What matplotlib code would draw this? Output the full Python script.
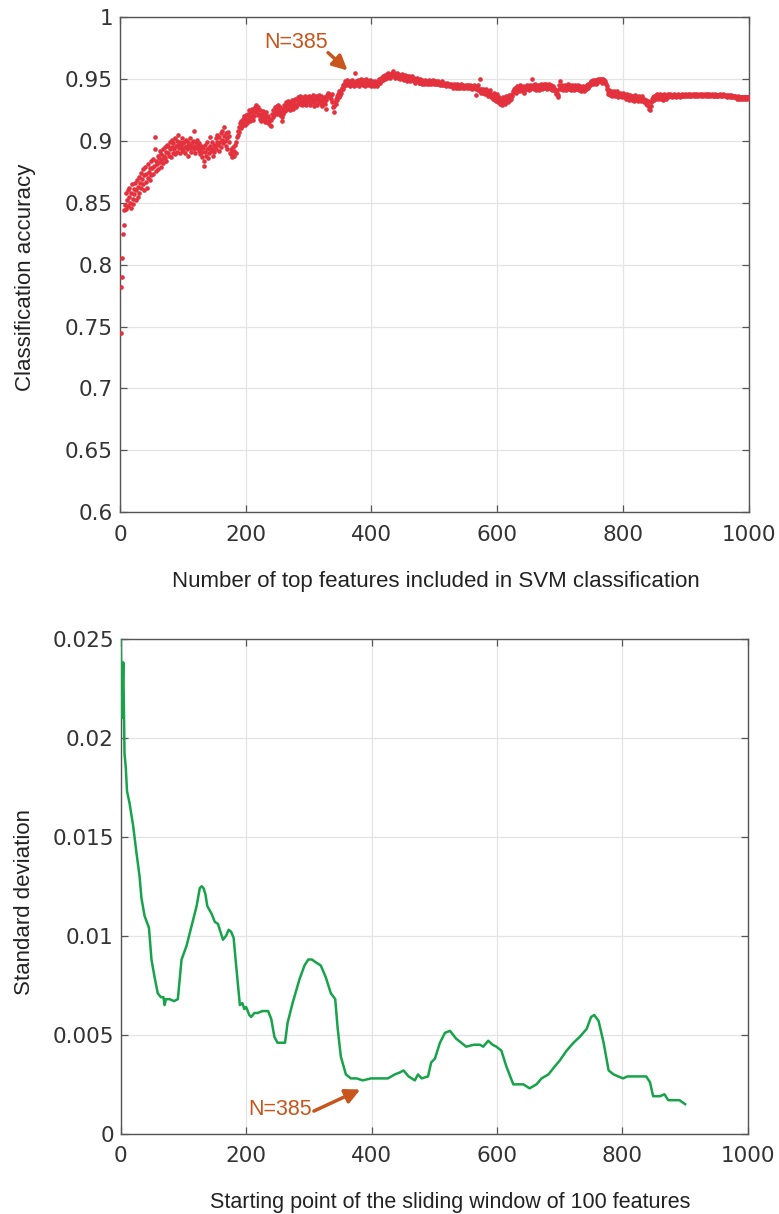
"""
Accuracy vs. number of top features (SVM) and sliding-window standard deviation.
Writes out.png (779x1214).
"""

import numpy as np
import matplotlib
matplotlib.use("Agg")
import matplotlib.pyplot as plt

# ── Data ──────────────────────────────────────────────────────────────────────

# classification accuracy (x1000) for top-N features, N = 1..1000
ACC_MILLI = [
    745, 782, 790, 805, 825, 832, 844, 848, 858, 845, 852, 860, 847, 855, 862, 850, 846, 858, 865, 853, 849, 861, 857, 866, 852,
    860, 868, 855, 863, 871, 858, 866, 874, 862, 869, 877, 865, 860, 872, 879, 867, 873, 862, 870, 881, 875, 868, 878, 884, 872,
    878, 885, 873, 880, 893, 903, 876, 884, 881, 888, 877, 886, 892, 883, 879, 889, 885, 893, 882, 888, 895, 886, 891, 884, 897,
    890, 896, 888, 899, 893, 887, 901, 895, 890, 898, 893, 902, 889, 896, 900, 891, 897, 905, 894, 899, 890, 896, 902, 893, 898,
    892, 899, 895, 890, 901, 896, 893, 899, 888, 897, 902, 894, 891, 898, 895, 900, 893, 908, 896, 890, 899, 894, 901, 897, 892,
    898, 893, 889, 896, 891, 887, 894, 884, 880, 891, 897, 888, 893, 899, 886, 894, 890, 903, 896, 892, 899, 893, 888, 897, 891,
    896, 902, 893, 899, 905, 897, 892, 903, 899, 906, 895, 901, 908, 898, 904, 911, 900, 906, 896, 902, 893, 907, 899, 904, 890,
    889, 893, 887, 891, 895, 888, 892, 897, 890, 899, 903, 908, 905, 911, 907, 914, 910, 916, 912, 918, 915, 920, 917, 913, 921,
    918, 914, 922, 917, 925, 920, 916, 923, 919, 926, 921, 917, 924, 920, 927, 923, 929, 925, 921, 927, 922, 918, 925, 920, 916,
    922, 918, 924, 919, 915, 921, 917, 923, 919, 914, 920, 916, 913, 918, 912, 917, 922, 919, 925, 921, 927, 923, 926, 922, 928,
    924, 929, 925, 921, 927, 923, 919, 916, 922, 926, 929, 924, 928, 931, 926, 930, 927, 932, 928, 925, 931, 927, 933, 929, 926,
    932, 928, 934, 930, 927, 933, 929, 935, 931, 934, 930, 936, 932, 929, 935, 931, 934, 930, 936, 933, 929, 934, 931, 935, 932,
    936, 933, 929, 935, 931, 934, 937, 932, 928, 934, 930, 936, 933, 929, 935, 931, 937, 933, 930, 936, 932, 928, 934, 931, 935,
    930, 926, 933, 937, 935, 939, 936, 938, 935, 937, 934, 938, 931, 927, 923, 928, 931, 934, 930, 936, 933, 938, 935, 940, 937,
    941, 939, 943, 945, 942, 946, 944, 948, 945, 947, 949, 946, 948, 945, 947, 944, 948, 946, 949, 945, 947, 944, 946, 955, 948,
    945, 947, 949, 946, 948, 944, 947, 950, 946, 948, 945, 949, 947, 944, 946, 948, 950, 947, 945, 948, 946, 949, 947, 944, 946,
    948, 945, 947, 944, 946, 948, 945, 947, 944, 946, 948, 950, 947, 949, 951, 948, 950, 952, 949, 951, 953, 950, 952, 954, 951,
    953, 955, 952, 954, 951, 953, 955, 952, 954, 956, 953, 951, 954, 952, 955, 953, 951, 954, 952, 950, 953, 951, 954, 952, 950,
    952, 949, 951, 953, 950, 952, 948, 951, 949, 952, 950, 948, 951, 949, 952, 950, 948, 951, 949, 947, 950, 948, 951, 949, 947,
    949, 947, 950, 948, 946, 949, 947, 948, 946, 949, 947, 948, 946, 948, 947, 949, 946, 948, 947, 946, 948, 947, 949, 946, 948,
    947, 946, 948, 947, 946, 948, 946, 947, 945, 947, 946, 948, 945, 946, 947, 945, 946, 944, 946, 945, 947, 945, 944, 946, 945,
    946, 944, 945, 943, 945, 946, 944, 945, 943, 944, 946, 945, 943, 944, 945, 943, 944, 946, 944, 943, 945, 944, 943, 944, 945,
    944, 943, 945, 944, 943, 944, 945, 943, 944, 942, 944, 943, 945, 943, 944, 942, 937, 943, 945, 941, 942, 950, 940, 942, 939,
    941, 939, 942, 940, 938, 941, 939, 942, 940, 938, 936, 939, 937, 941, 938, 935, 937, 934, 936, 939, 933, 936, 932, 935, 938,
    934, 931, 935, 932, 930, 933, 929, 932, 935, 931, 934, 930, 933, 936, 932, 935, 931, 934, 937, 933, 936, 934, 938, 936, 940,
    942, 940, 943, 941, 939, 942, 944, 941, 943, 940, 942, 945, 941, 943, 940, 944, 942, 939, 943, 941, 944, 942, 945, 943, 941,
    943, 945, 942, 944, 950, 943, 945, 942, 944, 946, 943, 941, 944, 942, 945, 943, 941, 944, 946, 943, 945, 942, 944, 946, 943,
    945, 943, 946, 944, 942, 945, 943, 946, 944, 942, 945, 943, 941, 944, 942, 943, 940, 938, 941, 939, 935, 937, 942, 945, 948,
    944, 942, 945, 943, 941, 944, 942, 945, 943, 941, 944, 946, 943, 945, 942, 944, 941, 943, 945, 942, 944, 941, 943, 945, 942,
    944, 942, 945, 943, 941, 944, 942, 940, 943, 941, 944, 942, 940, 943, 941, 944, 942, 945, 943, 946, 944, 947, 945, 948, 946,
    948, 946, 949, 947, 949, 948, 946, 949, 947, 950, 948, 949, 950, 948, 950, 949, 947, 950, 948, 949, 947, 948, 946, 944, 942,
    940, 938, 941, 939, 937, 940, 938, 936, 939, 937, 940, 938, 936, 939, 937, 940, 938, 935, 937, 939, 936, 938, 935, 937, 939,
    936, 938, 935, 937, 934, 936, 938, 935, 933, 936, 934, 937, 935, 933, 936, 934, 932, 935, 937, 934, 936, 933, 935, 932, 934,
    936, 933, 935, 932, 934, 936, 933, 931, 934, 932, 930, 933, 931, 929, 932, 928, 926, 925, 928, 931, 934, 932, 935, 933, 936,
    934, 937, 935, 938, 936, 934, 937, 935, 938, 936, 934, 937, 935, 933, 936, 938, 935, 937, 934, 936, 938, 935, 937, 936, 938,
    936, 937, 935, 937, 936, 938, 936, 937, 935, 937, 936, 938, 937, 936, 937, 935, 937, 936, 938, 937, 936, 937, 936, 938, 937,
    936, 937, 938, 936, 937, 936, 938, 937, 936, 937, 938, 937, 936, 937, 938, 936, 937, 938, 937, 936, 937, 938, 937, 936, 937,
    938, 937, 936, 937, 938, 937, 936, 937, 938, 937, 936, 938, 937, 936, 937, 938, 937, 936, 937, 936, 938, 937, 936, 937, 936,
    937, 936, 937, 938, 937, 936, 937, 936, 937, 938, 937, 936, 937, 936, 935, 937, 936, 937, 936, 935, 936, 937, 936, 935, 936,
    935, 936, 935, 936, 935, 934, 935, 936, 935, 934, 935, 935, 934, 935, 935, 934, 935, 935, 934, 935, 935, 934, 935, 935, 935,
]

# sliding window (100 features) standard deviation
STD_START = [
    0, 2, 4, 6, 8, 10, 14, 20, 25, 30, 33, 38, 45, 49, 54, 59, 64, 68, 70, 72,
    78, 85, 91, 97, 105, 113, 121, 126, 129, 132, 135, 138, 145, 150, 155, 160, 163, 168, 172, 176,
    180, 184, 190, 194, 197, 200, 205, 208, 213, 218, 226, 235, 240, 245, 250, 262, 266, 274, 285, 293,
    299, 305, 309, 319, 327, 335, 342, 346, 351, 359, 367, 376, 386, 399, 413, 426, 437, 445, 451, 459,
    469, 474, 480, 490, 495, 501, 509, 517, 525, 535, 551, 563, 573, 578, 586, 593, 599, 607, 615, 626,
    642, 652, 663, 671, 682, 692, 700, 711, 722, 732, 743, 750, 755, 762, 770, 778, 786, 801, 808, 817,
    838, 844, 849, 860, 867, 873, 891, 900,
]
STD_VALUE = [
    0.0250, 0.0210, 0.0238, 0.0192, 0.0185, 0.0173, 0.0167, 0.0155, 0.0142, 0.0130,
    0.0119, 0.0110, 0.0104, 0.0088, 0.0079, 0.0071, 0.0069, 0.0069, 0.0065, 0.0068,
    0.0068, 0.0067, 0.0068, 0.0088, 0.0095, 0.0105, 0.0115, 0.0124, 0.0125, 0.0124,
    0.0121, 0.0115, 0.0111, 0.0107, 0.0106, 0.0101, 0.0098, 0.0100, 0.0103, 0.0102,
    0.0099, 0.0085, 0.0065, 0.0066, 0.0063, 0.0064, 0.0060, 0.0059, 0.0061, 0.0061,
    0.0062, 0.0062, 0.0058, 0.0049, 0.0046, 0.0046, 0.0056, 0.0066, 0.0078, 0.0085,
    0.0088, 0.0088, 0.0087, 0.0085, 0.0079, 0.0071, 0.0068, 0.0053, 0.0039, 0.0030,
    0.0028, 0.0028, 0.0027, 0.0028, 0.0028, 0.0028, 0.0030, 0.0031, 0.0032, 0.0029,
    0.0027, 0.0030, 0.0028, 0.0029, 0.0036, 0.0038, 0.0046, 0.0051, 0.0052, 0.0048,
    0.0044, 0.0045, 0.0045, 0.0044, 0.0047, 0.0045, 0.0044, 0.0042, 0.0034, 0.0025,
    0.0025, 0.0023, 0.0025, 0.0028, 0.0030, 0.0034, 0.0037, 0.0042, 0.0046, 0.0049,
    0.0053, 0.0059, 0.0060, 0.0057, 0.0046, 0.0032, 0.0030, 0.0028, 0.0029, 0.0029,
    0.0029, 0.0026, 0.0019, 0.0019, 0.0020, 0.0017, 0.0017, 0.0015,
]

TOP_YTICKS  = [0.6, 0.65, 0.7, 0.75, 0.8, 0.85, 0.9, 0.95, 1.0]
TOP_YLABELS = ["0.6", "0.65", "0.7", "0.75", "0.8", "0.85", "0.9", "0.95", "1"]
BOT_YTICKS  = [0, 0.005, 0.01, 0.015, 0.02, 0.025]
BOT_YLABELS = ["0", "0.005", "0.01", "0.015", "0.02", "0.025"]
XTICKS      = [0, 200, 400, 600, 800, 1000]

# ── Style ─────────────────────────────────────────────────────────────────────

DOT_COLOUR   = "#e3313d"
LINE_COLOUR  = "#17a34a"
NOTE_COLOUR  = "#c8551b"
SPINE_COLOUR = "#555555"
GRID_COLOUR  = "#e4e4e4"
TICK_COLOUR  = "#333333"
LABEL_COLOUR = "#222222"
LABEL_FONT   = "Liberation Sans"

plt.rcParams.update({
    "font.family": "DejaVu Sans",
    "font.size": 15,
})


def style_axes(ax):
    ax.grid(True, color=GRID_COLOUR, lw=0.9)
    ax.set_axisbelow(True)
    for sp in ax.spines.values():
        sp.set_color(SPINE_COLOUR)
        sp.set_linewidth(1.0)
    ax.tick_params(direction="in", length=5, width=0.9, color=SPINE_COLOUR,
                   top=True, right=True, labelsize=15.5, labelcolor=TICK_COLOUR)
    ax.tick_params(axis="x", pad=9)
    ax.tick_params(axis="y", pad=5)
    ax.set_xlim(0, 1000)
    ax.set_xticks(XTICKS)


def note(ax, text, text_xy, tail_xy, head_xy):
    ax.text(*text_xy, text, ha="center", va="center", color=NOTE_COLOUR,
            family=LABEL_FONT, fontsize=15.5)
    ax.annotate("", xy=head_xy, xytext=tail_xy,
                arrowprops=dict(arrowstyle="-|>", color=NOTE_COLOUR, lw=2.5,
                                mutation_scale=22, shrinkA=0, shrinkB=0))


fig = plt.figure(figsize=(7.79, 12.14), dpi=100)
ax1 = fig.add_axes([0.154, 0.578, 0.807, 0.408])
ax2 = fig.add_axes([0.155, 0.066, 0.805, 0.408])

# ── Top: accuracy scatter ────────────────────────────────────────────────────
acc = np.array(ACC_MILLI) / 1000.0
n_feat = np.arange(1, len(acc) + 1)
style_axes(ax1)
ax1.scatter(n_feat, acc, s=11, c=DOT_COLOUR, linewidths=0, zorder=3)
ax1.set_ylim(0.6, 1.0)
ax1.set_yticks(TOP_YTICKS)
ax1.set_yticklabels(TOP_YLABELS)
ax1.set_xlabel("Number of top features included in SVM classification",
               family=LABEL_FONT, fontsize=16, color=LABEL_COLOUR)
ax1.set_ylabel("Classification accuracy",
               family=LABEL_FONT, fontsize=16, color=LABEL_COLOUR)
ax1.xaxis.set_label_coords(0.502, -0.118)
ax1.yaxis.set_label_coords(-0.133, 0.474)
note(ax1, "N=385", (280, 0.979), (331, 0.9712), (362, 0.9568))

# ── Bottom: sliding-window std ───────────────────────────────────────────────
style_axes(ax2)
ax2.plot(STD_START, STD_VALUE, color=LINE_COLOUR, lw=1.8, zorder=3,
         solid_joinstyle="round")
ax2.set_ylim(0, 0.025)
ax2.set_yticks(BOT_YTICKS)
ax2.set_yticklabels(BOT_YLABELS)
ax2.set_xlabel("Starting point of the sliding window of 100 features",
               family=LABEL_FONT, fontsize=15.5, color=LABEL_COLOUR)
ax2.set_ylabel("Standard deviation",
               family=LABEL_FONT, fontsize=16, color=LABEL_COLOUR)
ax2.xaxis.set_label_coords(0.526, -0.118)
ax2.yaxis.set_label_coords(-0.137, 0.469)
note(ax2, "N=385", (254, 0.00121), (308, 0.00115), (382, 0.00224))

fig.savefig("out.png", dpi=100)
